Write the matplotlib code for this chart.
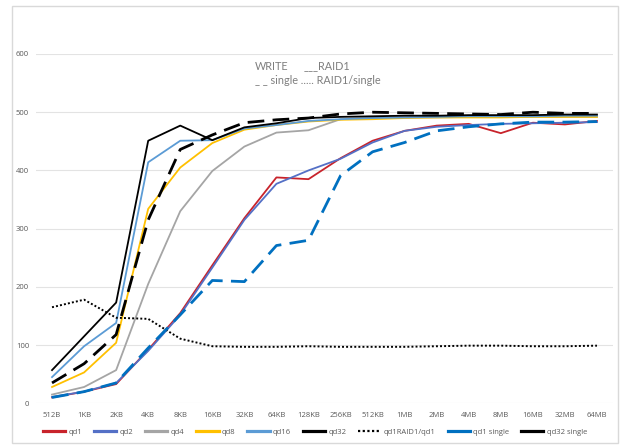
import matplotlib
matplotlib.use("Agg")
import matplotlib.pyplot as plt

categories = ["512B", "1KB", "2KB", "4KB", "8KB", "16KB", "32KB", "64KB", "128KB",
              "256KB", "512KB", "1MB", "2MB", "4MB", "8MB", "16MB", "32MB", "64MB"]

qd1 = [10, 20, 33, 92, 155, 237, 318, 388, 385, 421, 451, 468, 477, 480, 464, 482, 479, 485]
qd2 = [11, 20, 35, 90, 152, 233, 315, 377, 400, 420, 448, 468, 475, 478, 480, 481, 482, 483]
qd4 = [15, 28, 57, 205, 330, 399, 441, 465, 469, 488, 490, 491, 491, 492, 492, 492, 492, 492]
qd8 = [28, 53, 104, 334, 405, 447, 470, 478, 484, 487, 488, 490, 491, 491, 491, 492, 492, 492]
qd16 = [45, 98, 138, 414, 451, 452, 472, 478, 485, 488, 490, 491, 492, 493, 493, 493, 494, 494]
qd32 = [57, 115, 173, 451, 477, 452, 474, 481, 490, 492, 493, 494, 494, 495, 495, 495, 496, 496]
ratio = [165, 178, 147, 145, 111, 98, 97, 97, 98, 97, 97, 97, 98, 99, 99, 98, 98, 99]
qd1_single = [10, 20, 35, 95, 152, 211, 209, 271, 280, 391, 432, 448, 468, 475, 480, 483, 483, 484]
qd32_single = [35, 68, 118, 315, 436, 461, 482, 487, 490, 497, 500, 499, 498, 497, 496, 500, 498, 498]

yticks = [0, 100, 200, 300, 400, 500, 600]

plt.rcParams['font.family'] = ['Open Sans', 'DejaVu Sans']

fig = plt.figure(figsize=(6.24, 4.46), dpi=100)
# frame
fig.patches.append(plt.Rectangle((12 / 624, 1 - 443 / 446), (618 - 12) / 624, (443 - 6) / 446,
                                 transform=fig.transFigure, fill=False,
                                 edgecolor='#d9d9d9', linewidth=1.0))

ax = fig.add_axes([36 / 624, (446 - 403.3) / 446, (613 - 36) / 624, (403.3 - 54) / 446])
x = list(range(len(categories)))

ax.plot(x, qd1, color='#C8232B', lw=1.3, label='qd1')
ax.plot(x, qd2, color='#5470C6', lw=1.3, label='qd2')
ax.plot(x, qd4, color='#A5A5A5', lw=1.3, label='qd4')
ax.plot(x, qd8, color='#FFC000', lw=1.3, label='qd8')
ax.plot(x, qd16, color='#5B9BD5', lw=1.3, label='qd16')
ax.plot(x, qd32, color='#000000', lw=1.3, label='qd32')
ax.plot(x, ratio, color='#000000', lw=1.4, linestyle=(0, (1, 1.1)), label='qd1RAID1/qd1')
ax.plot(x, qd1_single, color='#0070C0', lw=2.0, linestyle=(0, (6, 3)), label='qd1 single')
ax.plot(x, qd32_single, color='#000000', lw=2.0, linestyle=(0, (6, 3)), label='qd32 single')

ax.set_xlim(-0.5, len(categories) - 0.5)
ax.set_ylim(0, 600)
ax.set_yticks(yticks)
ax.set_xticks(x)
ax.set_xticklabels(categories)
ax.grid(axis='y', color='#e3e3e3', linewidth=0.8)
ax.set_axisbelow(True)
for s in ax.spines.values():
    s.set_visible(False)
ax.tick_params(axis='both', length=0, labelsize=5.5, labelcolor='#595959')
ax.tick_params(axis='x', pad=6)
ax.tick_params(axis='y', pad=5)

ann_font = ['Lato', 'DejaVu Sans']
fig.text(255 / 624, 1 - 66 / 446, "WRITE", fontsize=7.8, color='#7f7f7f', va='center', ha='left',
         family=ann_font)
fig.text(304 / 624, 1 - 66 / 446, "___RAID1", fontsize=7.8, color='#7f7f7f', va='center', ha='left',
         family=ann_font)
fig.text(255 / 624, 1 - 81 / 446, "_ _ single ..... RAID1/single", fontsize=7.8, color='#7f7f7f',
         va='center', ha='left', family=ann_font)

leg = fig.legend(loc='center', bbox_to_anchor=(315 / 624, 1 - 432 / 446), ncol=9, frameon=False,
                 fontsize=5.5, handlelength=2.9, handletextpad=0.4, columnspacing=1.6)
for t in leg.get_texts():
    t.set_color('#595959')
for ln in leg.get_lines():
    if ln.get_label() == 'qd1RAID1/qd1':
        ln.set_linewidth(1.6)
    else:
        ln.set_linewidth(2.3)
        ln.set_linestyle('-')

fig.savefig("out.png", dpi=100)
